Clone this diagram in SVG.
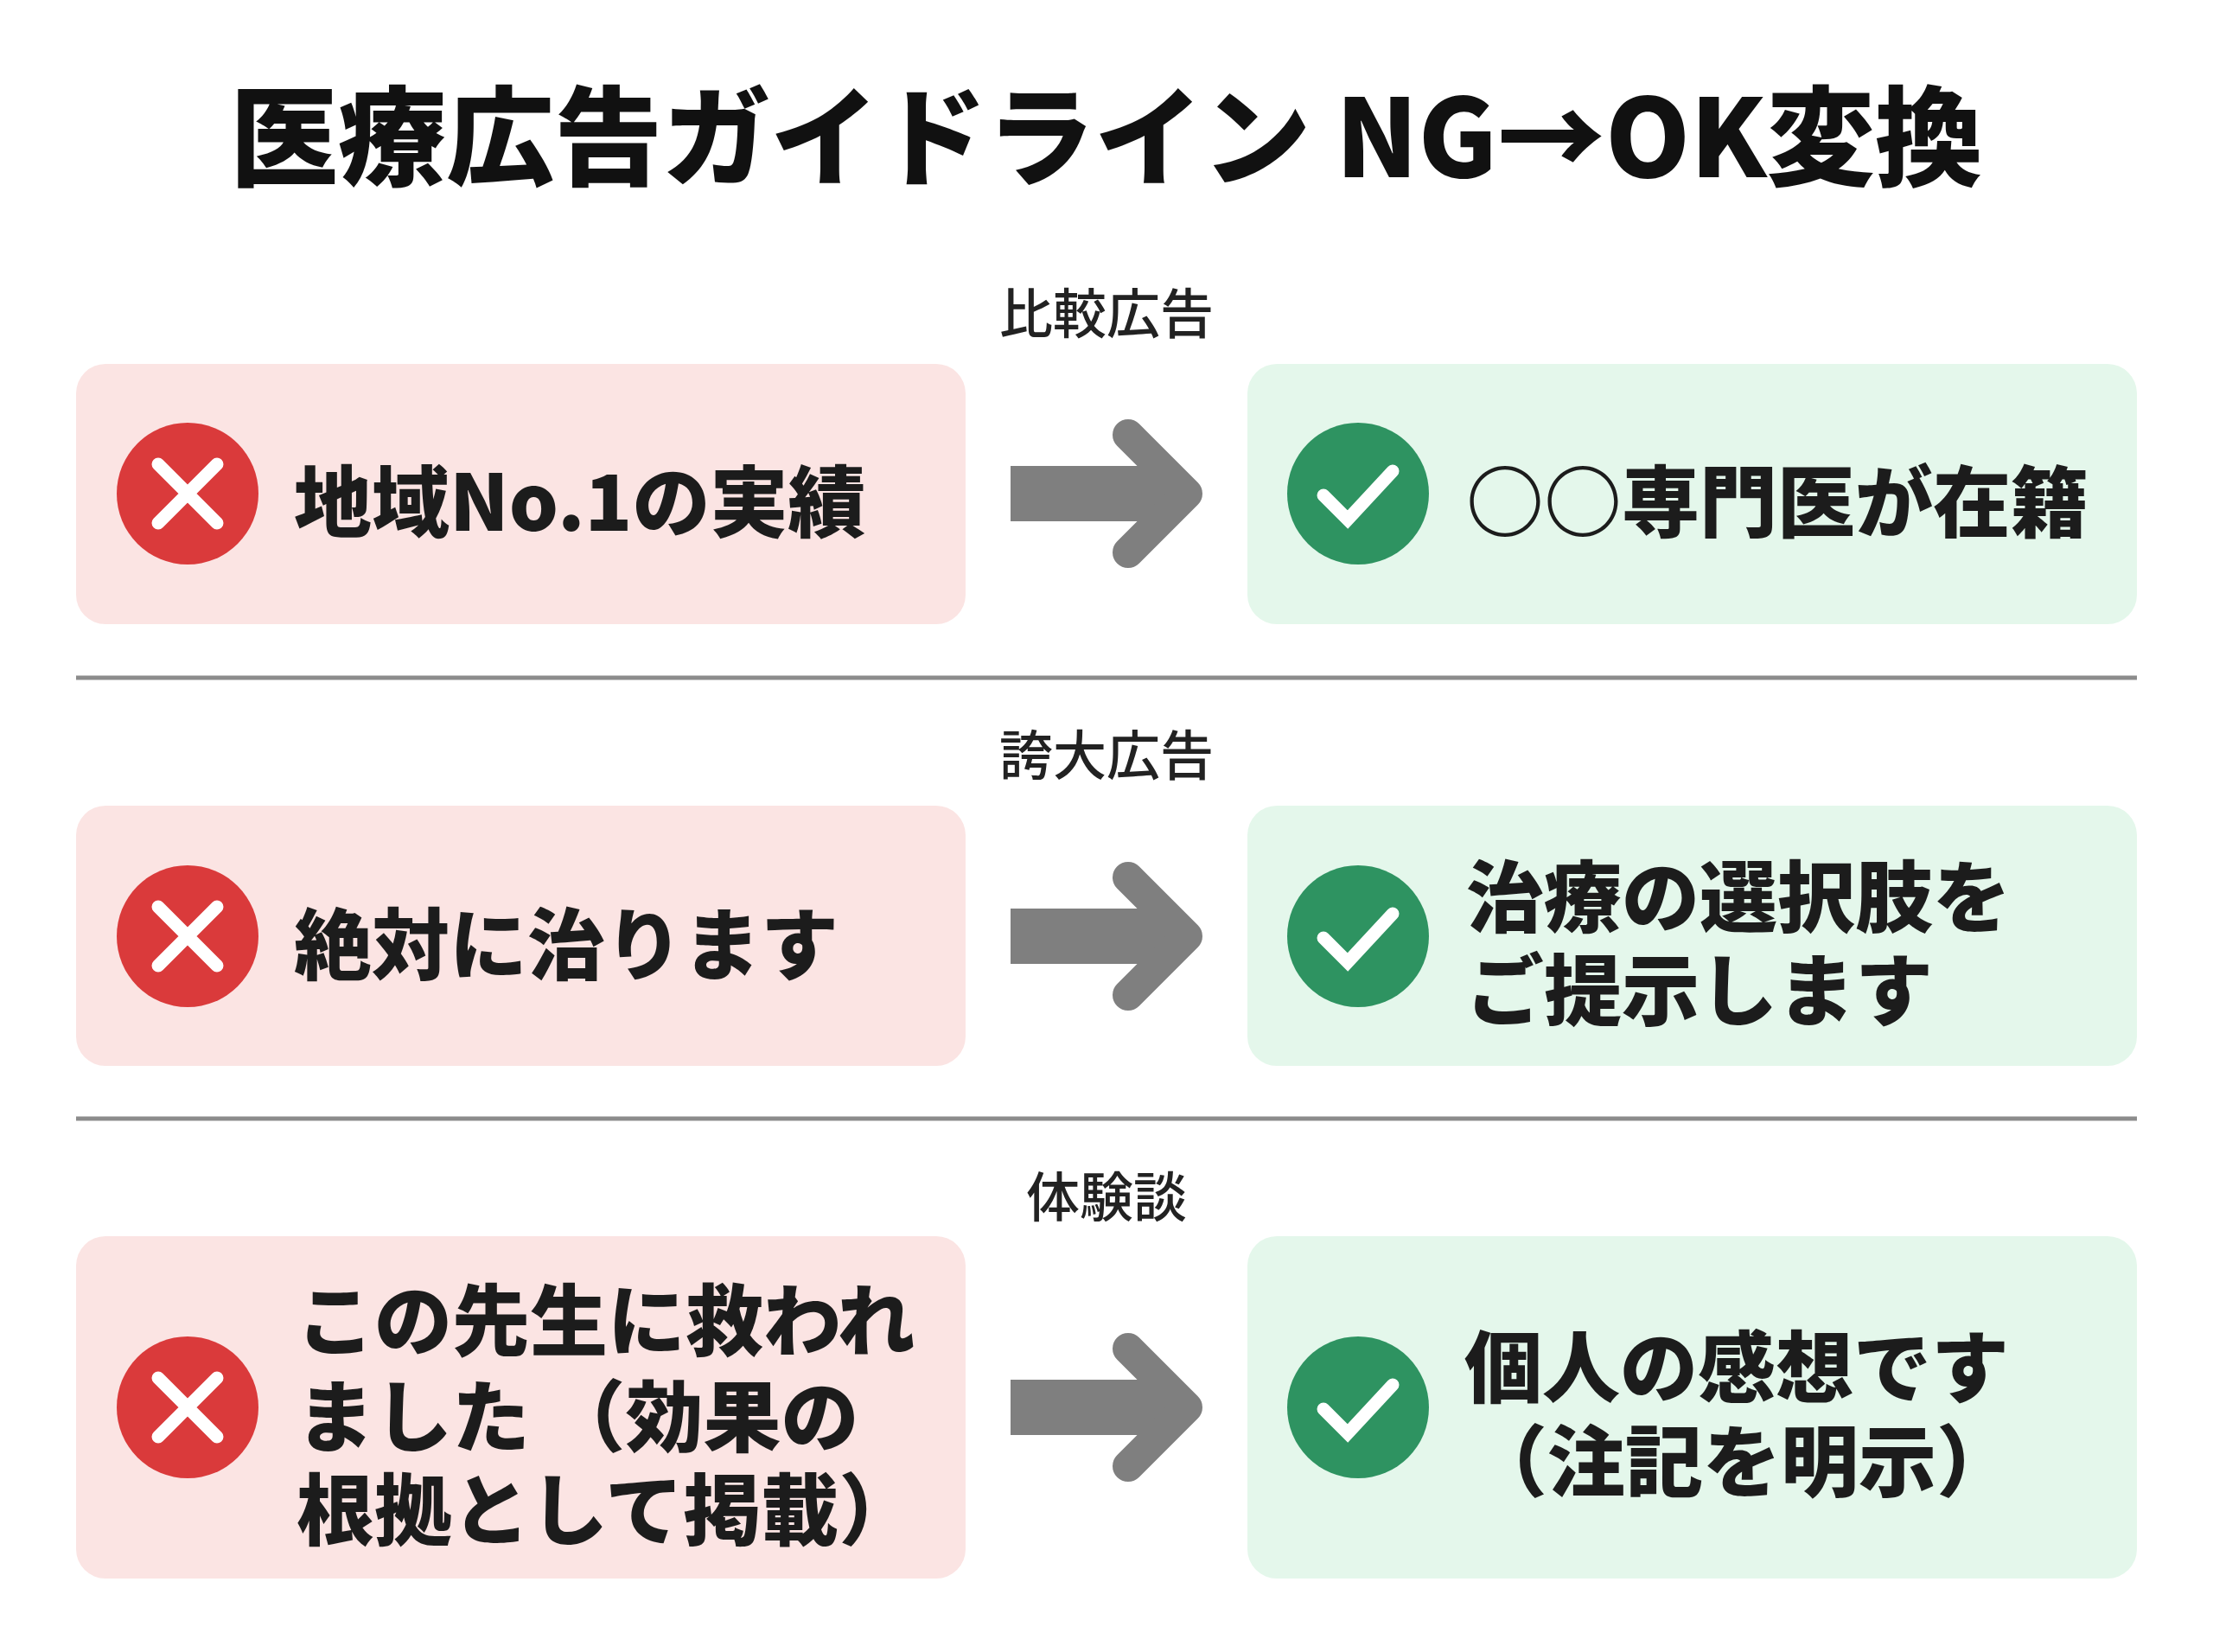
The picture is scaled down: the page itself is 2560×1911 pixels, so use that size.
<svg xmlns="http://www.w3.org/2000/svg" width="2560" height="1911" viewBox="0 0 2560 1911">
<defs>
<style>
.t{font-family:"Noto Sans CJK JP","Noto Sans",sans-serif;font-weight:900;fill:#1c1c1c;font-size:90px;dominant-baseline:central}
.lab{font-family:"Noto Sans CJK JP",sans-serif;font-weight:500;fill:#222;font-size:62px;text-anchor:middle;dominant-baseline:central}
.ng{fill:#fbe4e3}.ok{fill:#e4f7eb}
.x{stroke:#fff;stroke-width:15;stroke-linecap:round;fill:none}
.sep{stroke:#8c8c8c;stroke-width:5}
.arr{fill:none;stroke:#7f7f7f;stroke-linecap:round;stroke-linejoin:round}
</style>
<g id="cross"><circle r="82" fill="#da3a3b"/><path class="x" d="M-34,-34L34,34M34,-34L-34,34"/></g>
<g id="check"><circle r="82" fill="#2e9361"/><path class="x" d="M-40,2L-12,30L40,-26"/></g>
<g id="arrow"><path d="M-111,0H75" stroke="#7f7f7f" stroke-width="64" fill="none"/><path class="arr" stroke-width="36" d="M25,-68L93,0L25,68"/></g>
</defs>
<rect width="2560" height="1911" fill="#fff"/>
<text x="1280" y="150" text-anchor="middle" style="font-family:'Noto Sans CJK JP',sans-serif;font-weight:900;font-size:125px;fill:#111;dominant-baseline:central">医療広告ガイドライン NG→OK変換</text>
<g id="sections">
<text class="lab" x="1280" y="359">比較広告</text>
<text class="lab" x="1280" y="870">誇大広告</text>
<text class="lab" x="1280" y="1381">体験談</text>
<line class="sep" x1="88" y1="784" x2="2472" y2="784"/>
<line class="sep" x1="88" y1="1294" x2="2472" y2="1294"/>
</g>
<g id="row1-ng"><rect class="ng" x="88" y="421" width="1029" height="301" rx="34"/><use href="#cross" x="217" y="571"/><text class="t" x="340" y="575">地域No.1の実績</text></g>
<g id="row1-ok"><rect class="ok" x="1443" y="421" width="1029" height="301" rx="34"/><use href="#check" x="1571" y="571"/><text class="t" x="1696" y="575">○○専門医が在籍</text></g>
<g id="row2-ng"><rect class="ng" x="88" y="932" width="1029" height="301" rx="34"/><use href="#cross" x="217" y="1083"/><text class="t" x="340" y="1087">絶対に治ります</text></g>
<g id="row2-ok"><rect class="ok" x="1443" y="932" width="1029" height="301" rx="34"/><use href="#check" x="1571" y="1083"/><text class="t" x="1696" y="1032">治療の選択肢を</text><text class="t" x="1696" y="1140">ご提示します</text></g>
<g id="row3-ng"><rect class="ng" x="88" y="1430" width="1029" height="396" rx="34"/><use href="#cross" x="217" y="1628"/><text class="t" x="343" y="1522">この先生に救われ</text><text class="t" x="343" y="1633">ました （効果の</text><text class="t" x="343" y="1741">根拠として掲載）</text></g>
<g id="row3-ok"><rect class="ok" x="1443" y="1430" width="1029" height="396" rx="34"/><use href="#check" x="1571" y="1628"/><text class="t" x="1694" y="1576">個人の感想です</text><text class="t" x="1700" y="1685">（注記を明示）</text></g>
<g id="connectors">
<use href="#arrow" x="1280" y="571"/>
<use href="#arrow" x="1280" y="1083"/>
<use href="#arrow" x="1280" y="1628"/>
</g>
</svg>
